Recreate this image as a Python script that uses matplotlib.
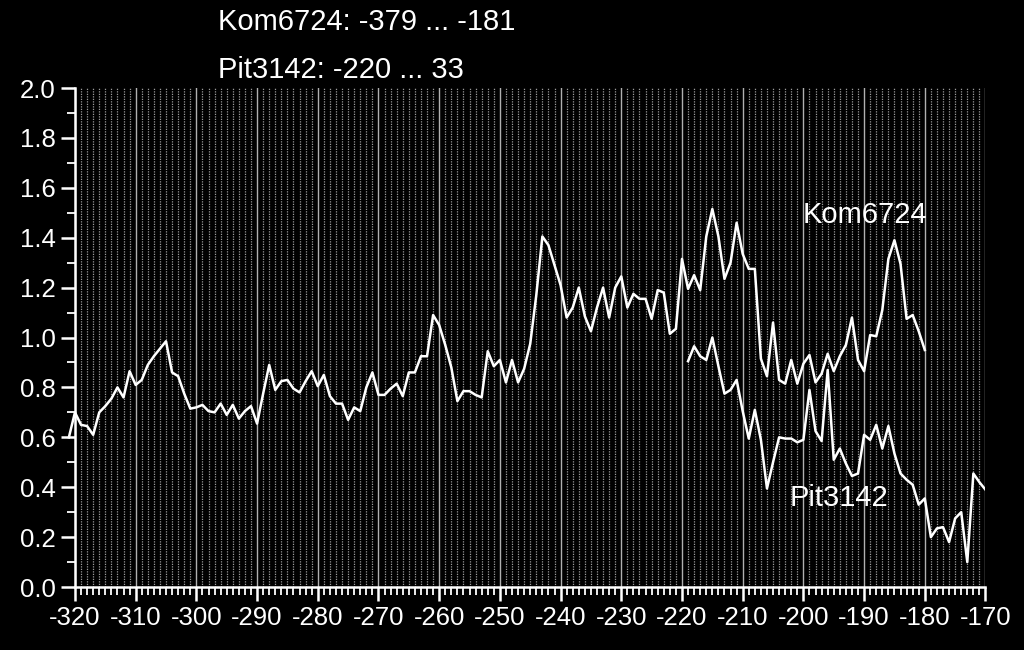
import numpy as np
import matplotlib.pyplot as plt
from matplotlib.ticker import MultipleLocator

plt.rcParams['font.family'] = ['Liberation Sans', 'DejaVu Sans']
plt.rcParams['axes.unicode_minus'] = False

# Kom6724, one value per year from -321 to -180
kom_start = -321
kom_vals = [
    0.60,
    0.70, 0.65, 0.645, 0.61, 0.70, 0.725, 0.755, 0.80, 0.76, 0.865,
    0.81, 0.83, 0.89, 0.925, 0.955, 0.985, 0.86, 0.845, 0.775, 0.715,
    0.72, 0.73, 0.705, 0.70, 0.735, 0.69, 0.73, 0.675, 0.705, 0.725,
    0.655, 0.775, 0.89, 0.79, 0.825, 0.83, 0.795, 0.78, 0.825, 0.865,
    0.805, 0.85, 0.765, 0.735, 0.735, 0.67, 0.72, 0.705, 0.80, 0.86,
    0.77, 0.77, 0.795, 0.815, 0.765, 0.86, 0.86, 0.925, 0.925, 1.09,
    1.05, 0.97, 0.88, 0.745, 0.785, 0.785, 0.77, 0.76, 0.945, 0.885,
    0.91, 0.82, 0.91, 0.82, 0.875, 0.975, 1.17, 1.405, 1.37, 1.29,
    1.21, 1.08, 1.12, 1.20, 1.085, 1.025, 1.12, 1.20, 1.08, 1.20,
    1.245, 1.12, 1.175, 1.155, 1.155, 1.075, 1.19, 1.18, 1.015, 1.035,
    1.315, 1.195, 1.25, 1.19, 1.405, 1.515, 1.405, 1.235, 1.30, 1.46,
    1.335, 1.275, 1.275, 0.915, 0.845, 1.06, 0.83, 0.815, 0.91, 0.815,
    0.895, 0.93, 0.82, 0.855, 0.935, 0.865, 0.925, 0.97, 1.08, 0.91,
    0.865, 1.01, 1.005, 1.11, 1.315, 1.39, 1.295, 1.075, 1.09, 1.025,
    0.95,
]

# Pit3142, one value per year from -219 to -170
pit_start = -219
pit_vals = [
    0.905, 0.965, 0.925, 0.91, 1.0, 0.885, 0.775, 0.79, 0.83, 0.705,
    0.595, 0.71, 0.59, 0.395, 0.50, 0.60, 0.595, 0.595, 0.58, 0.59,
    0.79, 0.625, 0.585, 0.87, 0.51, 0.555, 0.495, 0.445, 0.455, 0.61,
    0.59, 0.65, 0.555, 0.645, 0.535, 0.455, 0.43, 0.41, 0.33, 0.355,
    0.20, 0.235, 0.24, 0.18, 0.275, 0.30, 0.10, 0.455, 0.42, 0.39,
]

kom_years = np.arange(kom_start, kom_start + len(kom_vals))
pit_years = np.arange(pit_start, pit_start + len(pit_vals))

fig = plt.figure(figsize=(10.24, 6.5), dpi=100, facecolor='black')
ax = fig.add_axes([0.0732, 0.0969, 0.8892, 0.7677], facecolor='black')

# year grid
for yr in range(-320, -169):
    if yr % 10 == 0:
        ax.axvline(yr, color='#b0b0b0', lw=1.0, zorder=1)
    else:
        ax.axvline(yr, color='#9a9a9a', lw=0.9, ls=(0, (1, 1)), zorder=1)

ax.plot(kom_years, kom_vals, color='white', lw=1.8, zorder=3, clip_on=False)
ax.plot(pit_years, pit_vals, color='white', lw=1.8, zorder=3)

ax.set_xlim(-320, -170)
ax.set_ylim(0, 2.0)
ax.xaxis.set_major_locator(MultipleLocator(10))
ax.xaxis.set_minor_locator(MultipleLocator(1))
ax.yaxis.set_major_locator(MultipleLocator(0.2))
ax.yaxis.set_minor_locator(MultipleLocator(0.1))
ax.yaxis.set_major_formatter(plt.FuncFormatter(lambda v, p: f'{v:.1f}'))

for s in ['top', 'right']:
    ax.spines[s].set_visible(False)
for s in ['left', 'bottom']:
    ax.spines[s].set_color('white')
    ax.spines[s].set_linewidth(1.8)

ax.tick_params(which='major', direction='out', length=10, width=1.8,
               colors='white', labelsize=18.5, pad=4)
ax.tick_params(which='minor', direction='out', length=5.5, width=1.3,
               colors='white')

ax.text(-200.1, 1.49, 'Kom6724', color='white', fontsize=21, va='center', ha='left')
ax.text(-202.2, 0.357, 'Pit3142', color='white', fontsize=21, va='center', ha='left')

fig.text(0.213, 0.966, 'Kom6724: -379 ... -181', color='white', fontsize=21, va='center', ha='left')
fig.text(0.213, 0.892, 'Pit3142: -220 ... 33', color='white', fontsize=21, va='center', ha='left')

fig.savefig('out.png', dpi=100, facecolor='black')
